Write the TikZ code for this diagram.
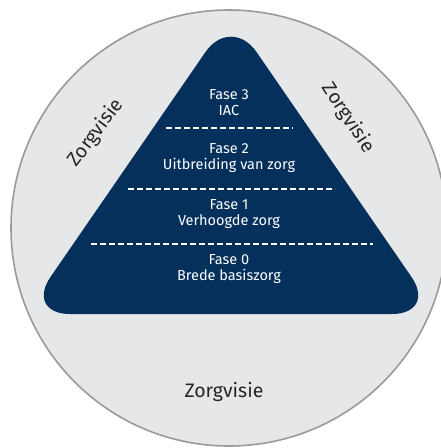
\documentclass[tikz,border=0pt]{standalone}
\usepackage{fontspec}
\setmainfont{Fira Sans}
\usepackage{xcolor}
\usetikzlibrary{calc}

\definecolor{navy}{HTML}{04305B}
\definecolor{ringgray}{HTML}{E6E7E8}
\definecolor{edgegray}{HTML}{9A9A9A}

\tikzset{
  fase/.style={text=white, align=center, inner sep=1pt, font=\fontsize{14.5}{16}\selectfont},
  visie/.style={text=black!85, inner sep=1pt, font=\fontsize{19.5}{21}\selectfont},
  scheiding/.style={white, line width=1.6pt, dash pattern=on 5.5pt off 3.5pt}
}

\begin{document}
\begin{tikzpicture}[x=1pt, y=-1pt]

% ------------------------
% PARAMETERS
% ------------------------
\def\cx{229}
\def\cy{228}
\def\R{218}

\useasboundingbox (0,0) rectangle (441,448);
\clip (0,0) rectangle (441,448);

% ------------------------
% Outer circle
% ------------------------
\fill[ringgray] (\cx,\cy) circle (\R);
\draw[edgegray, line width=1.6pt] (\cx,\cy) circle (\R);

% ------------------------
% Pyramid
% ------------------------
\fill[navy, rounded corners=45pt] (231,15) -- (437,314) -- (25,314) -- cycle;

% separators
\draw[scheiding] (166,128) -- (293,128);
\draw[scheiding] (128,189) -- (335,189);
\draw[scheiding] (91,244) -- (373,244);

% ------------------------
% Phase labels
% ------------------------
\node[fase] (fase3) at (229,103) {Fase 3\\IAC};
\node[fase] (fase2) at (229,158) {Fase 2\\Uitbreiding van zorg};
\node[fase] (fase1) at (229,214) {Fase 1\\Verhoogde zorg};
\node[fase] (fase0) at (229,269) {Fase 0\\Brede basiszorg};

% ------------------------
% Zorgvisie labels
% ------------------------
\node[visie, rotate=53] (visieL) at (96,133) {Zorgvisie};
\node[visie, rotate=-57] (visieR) at (348,118) {Zorgvisie};
\node[visie] (visieB) at (224,392) {Zorgvisie};

\end{tikzpicture}
\end{document}
